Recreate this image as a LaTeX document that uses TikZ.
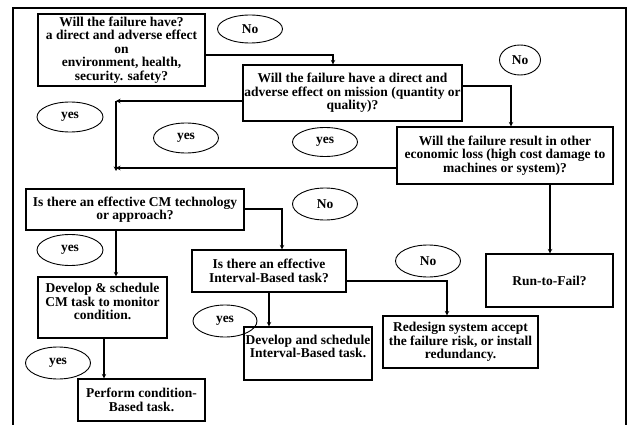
\documentclass[tikz,border=0pt]{standalone}
\usepackage{fontspec}
\setmainfont{Liberation Serif}
\usetikzlibrary{arrows.meta,shapes.geometric}

\tikzset{
  box/.style={draw, line width=1.1pt, rectangle, align=center, inner sep=1pt,
    font=\fontsize{13.5}{13.6}\selectfont\bfseries},
  oval/.style={draw, line width=0.9pt, ellipse, inner sep=0pt,
    font=\fontsize{13.5}{13.6}\selectfont\bfseries},
  conn/.style={line width=1.1pt},
  arr/.style={conn, -{Stealth[length=4.5pt,width=4.5pt]}},
  frame/.style={line width=1.1pt}
}

\begin{document}
\begin{tikzpicture}[x=1pt,y=-1pt]
\useasboundingbox (0,0) rectangle (629,425);

% outer frame (open at the bottom)
\draw[frame] (13,425) -- (13,8) -- (626,8) -- (626,425);

% question and action boxes
\node[box, minimum width=167pt, minimum height=72pt] (b1) at (121.5,50)
  {Will the failure have?\\a direct and adverse effect\\on\\environment, health,\\security. safety?};
\node[box, minimum width=219pt, minimum height=56pt] (b2) at (352.5,93)
  {Will the failure have a direct and\\adverse effect on mission (quantity or\\quality)?};
\node[box, minimum width=216pt, minimum height=57pt] (b3) at (505,155.5)
  {Will the failure result in other\\economic loss (high cost damage to\\machines or system)?};
\node[box, minimum width=218pt, minimum height=41pt] (b4) at (135,209.5)
  {Is there an effective CM technology\\or approach?};
\node[box, minimum width=154pt, minimum height=42pt] (b5) at (269,271)
  {Is there an effective\\Interval-Based task?};
\node[box, minimum width=129pt, minimum height=61pt, text depth=12pt] (b6) at (102.5,307.5)
  {Develop \& schedule\\CM task to monitor\\condition.};
\node[box, minimum width=127pt, minimum height=42pt] (b7) at (141.5,400)
  {Perform condition-\\Based task.};
\node[box, minimum width=128pt, minimum height=53pt, text depth=14pt] (b8) at (308,353.5)
  {Develop and schedule\\Interval-Based task.};
\node[box, minimum width=155pt, minimum height=52pt] (b9) at (460.5,342)
  {Redesign system accept\\the failure risk, or install\\redundancy.};
\node[box, minimum width=127pt, minimum height=53pt] (b10) at (549.5,280.5)
  {Run-to-Fail?};

% answer labels
\node[oval, minimum width=65pt, minimum height=28pt] (no1) at (250,29) {No};
\node[oval, minimum width=41pt, minimum height=30pt] (no2) at (520,60) {No};
\node[oval, minimum width=66pt, minimum height=30pt] (yes1) at (70,117) {yes};
\node[oval, minimum width=65pt, minimum height=30pt] (yes2) at (186,138) {yes};
\node[oval, minimum width=65pt, minimum height=29pt] (yes3) at (325,142) {yes};
\node[oval, minimum width=65pt, minimum height=32pt] (no3) at (325,204) {No};
\node[oval, minimum width=66pt, minimum height=31pt] (yes4) at (70,250) {yes};
\node[oval, minimum width=65pt, minimum height=32pt] (no4) at (428,261) {No};
\node[oval, minimum width=65pt, minimum height=32pt] (yes5) at (58,363) {yes};
\node[oval, minimum width=64pt, minimum height=32pt] (yes6) at (225,321) {yes};

% junction points of the "yes" collector line
\coordinate (j1) at (116,101);
\coordinate (j2) at (116,168);
\coordinate (j3) at (116,171);

% connectors
\draw[arr] ([yshift=-5pt]b1.east) -| ([xshift=-19.5pt]b2.north);
\draw[arr] ([yshift=7pt]b2.east) -| ([xshift=6pt]b3.north);
\draw[arr] ([yshift=-8pt]b2.west) -- (j1);
\draw[arr] ([yshift=-12.5pt]b3.west) -- (j2);
\draw[arr, line width=1.6pt] (j1) -- (j3);
\draw[arr] ([xshift=45pt]b3.south) -- ([xshift=45pt]b3.south |- b10.north);
\draw[arr] (b4.south -| j1) -- (b6.north -| j1);
\draw[arr] ([yshift=0.5pt]b4.east) -| ([xshift=13pt]b5.north);
\draw[arr] ([xshift=1.5pt]b6.south) -- ([xshift=1.5pt]b6.south |- b7.north);
\draw[arr] (b5.south) -- (b5.south |- b8.north);
\draw[arr] ([yshift=-10pt]b5.east) -| ([xshift=-13.5pt]b9.north);
\end{tikzpicture}
\end{document}
